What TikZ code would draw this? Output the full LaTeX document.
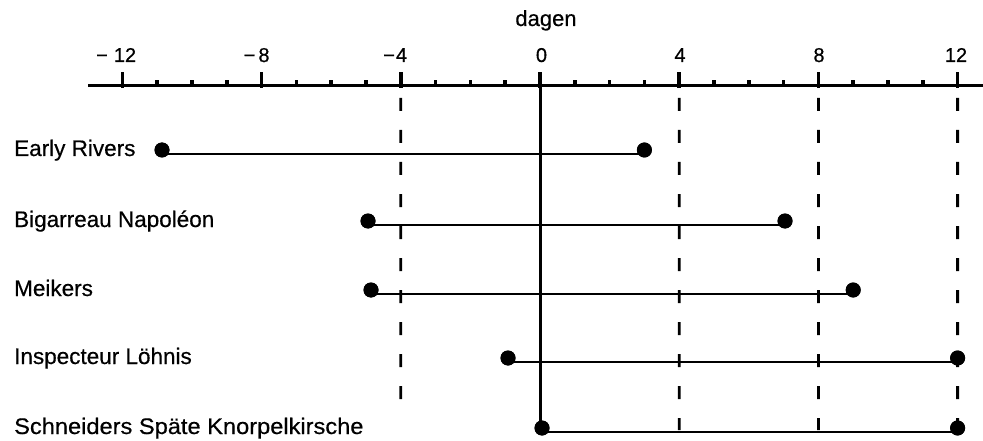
\documentclass[tikz,border=0pt]{standalone}
\usepackage{fontspec}
\usepackage{graphicx}
\setmainfont{Liberation Sans}[FakeBold=0.5]
\begin{document}
\begin{tikzpicture}[x=1pt,y=-1pt,
  axisline/.style={line width=3pt},
  majortick/.style={line width=3.5pt},
  minortick/.style={line width=3.5pt},
  guide/.style={line width=2.8pt, dash pattern=on 13pt off 19pt},
  zeroline/.style={line width=3pt},
  span/.style={line width=2.6pt},
  dot/.style={circle, fill=black, inner sep=0pt, minimum size=15pt},
  rowlabel/.style={anchor=base west, font=\fontsize{22.5}{27}\selectfont, inner sep=0pt},
  ticklabel/.style={anchor=base, font=\fontsize{20}{24}\selectfont, inner sep=0pt},
]
\useasboundingbox (0,0) rectangle (983,441);

% axis
\coordinate (axL) at (88,86);
\coordinate (axR) at (983,86);
\foreach \d in {-12,-11,...,12}{
  \coordinate (t\d) at ({540+34.8*\d},86);
  \draw[minortick] (t\d) -- ++(0,-6);
}
\foreach \d in {-12,-8,-4,0,4,8,12}{
  \draw[majortick] ([yshift=-2pt]t\d) -- ++(0,-16);
}
\draw[axisline] (axL) -- (axR);

% tick labels
\node[ticklabel] (lm12) at (125,62) {\llap{−\hspace{0.3em}}12};
\node[ticklabel] (lm8) at (264,62) {\llap{−\hspace{0.15em}}8};
\node[ticklabel] (lm4) at (401.5,62) {\llap{−\hspace{0.05em}}4};
\node[ticklabel] (l0) at (541.5,62) {0};
\node[ticklabel] (l4) at (680,62) {4};
\node[ticklabel] (l8) at (819,62) {8};
\node[ticklabel] (l12) at (956,62) {12};
\node[ticklabel, font=\fontsize{22}{26}\selectfont] (dagen) at (546,26) {dagen};

% dots
\node[dot] (er1) at (162,150) {};
\node[dot] (er2) at (644.4,150) {};
\node[dot] (bn1) at (368,221) {};
\node[dot] (bn2) at (785,221) {};
\node[dot] (mk1) at (371,290) {};
\node[dot] (mk2) at (853.2,290) {};
\node[dot] (il1) at (508,358) {};
\node[dot] (il2) at (957.6,358) {};
\node[dot] (sk1) at (542,428) {};
\node[dot] (sk2) at (957.6,428) {};

% guide lines
\coordinate (g-4) at (400.8,403);
\coordinate (g4) at (679.2,430);
\coordinate (g8) at (818.4,430);
\draw[guide] ([yshift=-12pt]t-4) -- (g-4);
\draw[guide] ([yshift=-12pt]t4) -- (g4);
\draw[guide] ([yshift=-12pt]t8) -- (g8);
\draw[guide] ([yshift=-12pt]t12) -- (sk2.center);
\draw[zeroline] (t0) -- (t0 |- sk1.center);

% spans
\foreach \a/\b in {er1/er2,bn1/bn2,mk1/mk2,il1/il2,sk1/sk2}{
  \draw[span] ([yshift=-4pt]\a.center) -- ([yshift=-4pt]\b.center);
}
\foreach \n in {er1,er2,bn1,bn2,mk1,mk2,il1,il2,sk1,sk2}{
  \node[dot] at (\n) {};
}

% labels
\node[rowlabel] (ler) at (14,156) {Early Rivers};
\node[rowlabel] (lbn) at (14,227) {Bigarreau Napoléon};
\node[rowlabel] (lmk) at (14,296) {Meikers};
\node[rowlabel] (lil) at (14,364) {Inspecteur Löhnis};
\node[rowlabel] (lsk) at (14,434) {\scalebox{1.05}[1]{Schneiders Späte Knorpelkirsche}};
\end{tikzpicture}
\end{document}
